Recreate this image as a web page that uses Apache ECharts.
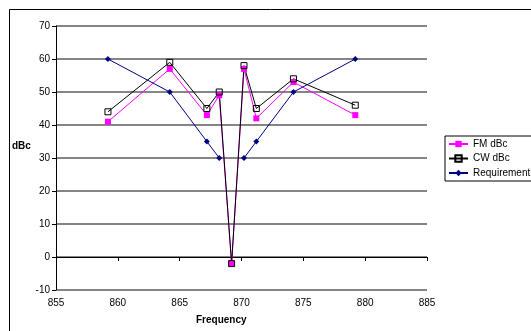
<!DOCTYPE html>
<html>
<head>
<meta charset="utf-8">
<script src="https://cdn.jsdelivr.net/npm/echarts@6/dist/echarts.min.js"></script>
<style>
  html, body { margin: 0; padding: 0; background: #fff; }
  #chart { width: 531px; height: 331px; }
</style>
</head>
<body>
<div id="chart"></div>
<script>
// frequency points (MHz) shared by all series
const freqs = [859.2, 864.2, 867.2, 868.2, 869.2, 870.2, 871.2, 874.2, 879.2];
const fmDbc = [41, 57, 43, 49, -2, 57, 42, 53, 43];
const cwDbc = [44, 59, 45, 50, -2, 58, 45, 54, 46];
const requirement = [60, 50, 35, 30, null, 30, 35, 50, 60];

const xMin = 855, xMax = 885, xStep = 5;
const yMin = -10, yMax = 70, yStep = 10;

const pairs = vals => freqs.map((f, i) => [f, vals[i]]);

const font = 'Liberation Sans, Arial, sans-serif';

const chart = echarts.init(document.getElementById('chart'));

const option = {
  animation: false,
  backgroundColor: '#fff',
  grid: { left: 56, top: 26, right: 104, bottom: 41 },
  xAxis: {
    type: 'value',
    min: xMin, max: xMax, interval: xStep,
    axisLine: { show: true, lineStyle: { color: '#000', width: 1 } },
    axisTick: { show: true, length: 4, lineStyle: { color: '#000' } },
    axisLabel: { color: '#000', fontSize: 10, fontFamily: font, margin: 8 },
    splitLine: { show: false }
  },
  yAxis: {
    type: 'value',
    min: yMin, max: yMax, interval: yStep,
    axisLine: { show: true, lineStyle: { color: '#000', width: 1 } },
    axisTick: { show: true, length: 4, lineStyle: { color: '#000' } },
    axisLabel: { color: '#000', fontSize: 10, fontFamily: font, margin: 6 },
    splitLine: { show: true, lineStyle: { color: '#858585', width: 2 } }
  },
  legend: {
    orient: 'vertical',
    left: 445, top: 136,
    padding: [2, 6, 2, 3],
    itemWidth: 19, itemHeight: 8, itemGap: 2.5,
    borderColor: '#000', borderWidth: 1,
    backgroundColor: '#fff',
    textStyle: { color: '#000', fontSize: 10, fontFamily: font, lineHeight: 12 },
    data: ['FM dBc', 'CW dBc', 'Requirement']
  },
  series: [
    {
      name: 'FM dBc', type: 'line',
      data: pairs(fmDbc),
      symbol: 'rect', symbolSize: 6,
      lineStyle: { color: '#ff00ff', width: 1 },
      itemStyle: { color: '#ff00ff' }
    },
    {
      name: 'CW dBc', type: 'line',
      data: pairs(cwDbc),
      symbol: 'rect', symbolSize: 6,
      lineStyle: { color: '#000', width: 1 },
      itemStyle: { color: 'rgba(0,0,0,0)', borderColor: '#000', borderWidth: 1 }
    },
    {
      name: 'Requirement', type: 'line',
      data: pairs(requirement),
      connectNulls: false,
      symbol: 'diamond', symbolSize: 6,
      lineStyle: { color: '#000080', width: 1 },
      itemStyle: { color: '#000080' }
    }
  ],
  graphic: [
    {
      type: 'rect',
      shape: { x: 9.5, y: 9.5, width: 600, height: 400 },
      style: { fill: 'none', stroke: '#000', lineWidth: 1 },
      silent: true, z: -1
    },
    {
      type: 'text', left: 12, top: 141,
      style: { text: 'dBc', fontSize: 10, fontWeight: 'bold', fontFamily: font, fill: '#000' }
    },
    {
      type: 'text', left: 196, top: 315,
      style: { text: 'Frequency', fontSize: 10, fontWeight: 'bold', fontFamily: font, fill: '#000' }
    }
  ]
};

chart.setOption(option);
</script>
</body>
</html>
